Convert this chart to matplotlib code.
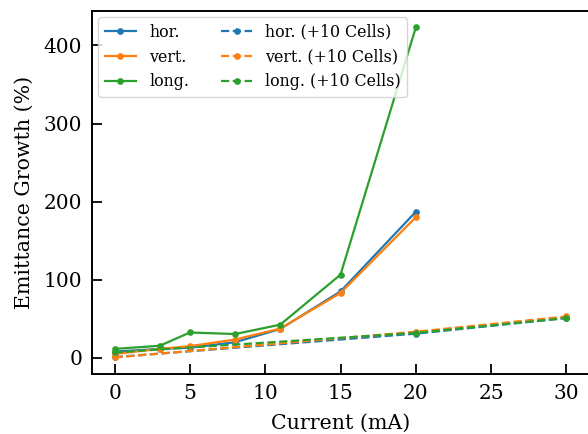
import numpy as np
import matplotlib
matplotlib.use("Agg")
import matplotlib.pyplot as plt

plt.rcParams['font.family'] = 'DejaVu Serif'

# Emittance growth vs beam current
current = [0, 3, 5, 8, 11, 15, 20]
hor = [8, 11.5, 13, 20, 37, 85, 187]
vert = [5, 11.5, 15, 23.5, 37.5, 83, 180]
long_ = [11.5, 15.5, 32.5, 30.5, 42.5, 106.5, 423]

# +10 cells runs
current_10 = [0, 20, 30]
hor_10 = [1, 31, 51]
vert_10 = [0.5, 33.5, 53]
long_10 = [7, 32, 51]

colors = ['#1f77b4', '#ff7f0e', '#2ca02c']

fig = plt.figure(figsize=(5.88, 4.34), dpi=100)
ax = fig.add_axes([92 / 588, (434 - 373.5) / 434, (589 - 92) / 588, (373.5 - 11) / 434])

kw = dict(marker='o', markersize=3.8, lw=1.6)
ax.plot(current, hor, color=colors[0], label='hor.', **kw)
ax.plot(current, vert, color=colors[1], label='vert.', **kw)
ax.plot(current, long_, color=colors[2], label='long.', **kw)
ax.plot(current_10, hor_10, '--', color=colors[0], label='hor. (+10 Cells)', **kw)
ax.plot(current_10, vert_10, '--', color=colors[1], label='vert. (+10 Cells)', **kw)
ax.plot(current_10, long_10, '--', color=colors[2], label='long. (+10 Cells)', **kw)

ax.set_xlim(-1.5, 31.5)
ax.set_ylim(-20, 444)
ax.set_xticks(np.arange(0, 31, 5))
ax.set_yticks(np.arange(0, 401, 100))
ax.tick_params(direction='in', length=7, width=1.3, labelsize=14.5)
ax.tick_params(axis='x', pad=7.5)
ax.tick_params(axis='y', pad=7)
for s in ax.spines.values():
    s.set_linewidth(1.4)

ax.set_xlabel('Current (mA)', fontsize=14.8, labelpad=8)
ax.set_ylabel('Emittance Growth (%)', fontsize=14.8, labelpad=7)
ax.legend(ncol=2, loc='upper left', fontsize=11.4, borderaxespad=0.4,
          handletextpad=0.8, columnspacing=2.0)

fig.savefig('out.png', dpi=100)
